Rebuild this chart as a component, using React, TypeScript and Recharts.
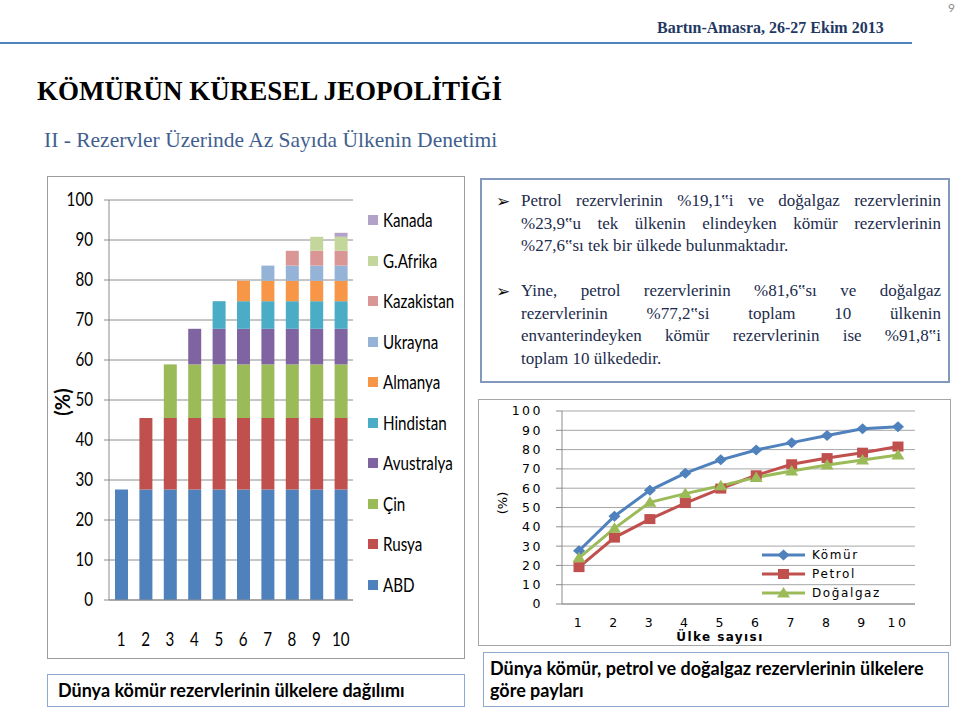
import React from 'react';
import { BarChart, Bar, LineChart, Line, XAxis, YAxis, CartesianGrid } from 'recharts';

// ---- data: stacked bar chart (share of world coal reserves, %) ----
const categories = ['1', '2', '3', '4', '5', '6', '7', '8', '9', '10'];
const countries = ['ABD', 'Rusya', 'Çin', 'Avustralya', 'Hindistan', 'Almanya', 'Ukrayna', 'Kazakistan', 'G.Afrika', 'Kanada'];
const countryShares = [27.6, 17.9, 13.4, 8.9, 6.9, 5.1, 3.8, 3.7, 3.5, 1.0];
const countryColors = ['#4F81BD', '#C0504D', '#9BBB59', '#8064A2', '#4BACC6', '#F79646', '#95B3D7', '#D99694', '#C3D69B', '#B3A2C7'];
const barTicks = [0, 10, 20, 30, 40, 50, 60, 70, 80, 90, 100];

// ---- data: cumulative shares line chart (%) ----
const countryCounts = ['1', '2', '3', '4', '5', '6', '7', '8', '9', '10'];
const komur = [27.6, 45.5, 58.9, 67.8, 74.7, 79.8, 83.6, 87.3, 90.8, 91.8];
const petrol = [19.1, 34.4, 44.0, 52.3, 59.8, 66.7, 72.4, 75.6, 78.4, 81.6];
const dogalgaz = [23.9, 39.2, 52.7, 57.2, 61.3, 65.6, 68.9, 72.0, 74.6, 77.2];
const lineTicks = [0, 10, 20, 30, 40, 50, 60, 70, 80, 90, 100];

const barRows = categories.map((cat, i) => {
  const row: Record<string, any> = { cat };
  countries.forEach((name, j) => {
    row[name] = j <= i ? countryShares[j] : 0;
  });
  return row;
});

const lineRows = countryCounts.map((n, i) => ({ n, komur: komur[i], petrol: petrol[i], dogalgaz: dogalgaz[i] }));

const SERIF = "'Liberation Serif', 'DejaVu Serif', serif";
const CAL = "Lato, 'Open Sans', sans-serif";
const VERD = "'DejaVu Sans', Verdana, sans-serif";
const SQUEEZE = 0.82;

const BLUE = '#4F81BD';
const RED = '#C0504D';
const GREEN = '#9BBB59';

const diamond = (cx: number, cy: number, fill: string, key?: any) => (
  <path key={key} d={`M${cx},${cy - 5.5}L${cx + 6},${cy}L${cx},${cy + 5.5}L${cx - 6},${cy}Z`} fill={fill} />
);
const square = (cx: number, cy: number, fill: string, key?: any) => (
  <rect key={key} x={cx - 5.5} y={cy - 5} width={11} height={10} fill={fill} />
);
const triangle = (cx: number, cy: number, fill: string, key?: any) => (
  <path key={key} d={`M${cx},${cy - 6}L${cx + 6.5},${cy + 4.5}L${cx - 6.5},${cy + 4.5}Z`} fill={fill} />
);

const mkDot = (fn: any, fill: string) => (p: any) => {
  if (p.cx == null || p.cy == null) return <g key={`e-${p.index}`} />;
  return fn(p.cx, p.cy, fill, `d-${p.index}`);
};

const lineSeries = [
  { key: 'komur', name: 'Kömür', color: BLUE, marker: diamond },
  { key: 'petrol', name: 'Petrol', color: RED, marker: square },
  { key: 'dogalgaz', name: 'Doğalgaz', color: GREEN, marker: triangle },
];

// narrow (Calibri-like) tick labels for the bar chart
const NarrowTick = (props: any) => {
  const { x, y, payload, textAnchor, orientation } = props;
  const dy = orientation === 'bottom' ? '0.71em' : '0.35em';
  return (
    <g transform={`translate(${x},${y}) scale(${SQUEEZE},1)`}>
      <text x={0} y={0} dy={dy} textAnchor={textAnchor} fontFamily={CAL} fontSize={18.5} fill="#000">
        {payload.value}
      </text>
    </g>
  );
};

const textLines1 = [
  'Petrol rezervlerinin %19,1‟i ve doğalgaz rezervlerinin',
  '%23,9‟u tek ülkenin elindeyken kömür rezervlerinin',
  '%27,6‟sı tek bir ülkede bulunmaktadır.',
];
const textLines2 = [
  'Yine, petrol rezervlerinin %81,6‟sı ve doğalgaz',
  'rezervlerinin %77,2‟si toplam 10 ülkenin',
  'envanterindeyken kömür rezervlerinin ise %91,8‟i',
  'toplam 10 ülkededir.',
];

const Paragraph = ({ lines, top }: { lines: string[]; top: number }) => (
  <>
    <div style={{ position: 'absolute', left: 496, top, fontFamily: "'DejaVu Sans', sans-serif", fontSize: 17, lineHeight: '22.5px', color: '#111' }}>➢</div>
    <div style={{ position: 'absolute', left: 521, top, width: 420, fontFamily: SERIF, fontSize: 17, color: '#1c2c4c' }}>
      {lines.map((l, i) => (
        <div
          key={i}
          style={{
            height: 22.5,
            lineHeight: '22.5px',
            whiteSpace: 'nowrap',
            textAlign: i < lines.length - 1 ? 'justify' : 'left',
            textAlignLast: i < lines.length - 1 ? 'justify' : 'left',
          } as any}
        >
          {l}
        </div>
      ))}
    </div>
  </>
);

export default function App() {
  return (
    <div style={{ position: 'absolute', left: 0, top: 0, width: 960, height: 709, background: '#fff', overflow: 'hidden' }}>
      {/* page number */}
      <div style={{ position: 'absolute', left: 948, top: 1, fontFamily: CAL, fontSize: 12, lineHeight: '14px', color: '#8c8c8c' }}>9</div>

      {/* header */}
      <div style={{ position: 'absolute', left: 657, top: 19, fontFamily: SERIF, fontWeight: 'bold', fontSize: 16, lineHeight: '18px', color: '#1F3864', whiteSpace: 'nowrap' }}>
        Bartın-Amasra, 26-27 Ekim 2013
      </div>
      <div style={{ position: 'absolute', left: 0, top: 42, width: 912, height: 2, background: BLUE }} />

      {/* title */}
      <div style={{ position: 'absolute', left: 37, top: 78, fontFamily: SERIF, fontWeight: 'bold', fontSize: 27, lineHeight: '27px', color: '#000', whiteSpace: 'nowrap' }}>
        KÖMÜRÜN KÜRESEL JEOPOLİTİĞİ
      </div>
      <div style={{ position: 'absolute', left: 44, top: 130, fontFamily: SERIF, fontSize: 21.5, lineHeight: '21.5px', color: '#3F5F8F', whiteSpace: 'nowrap' }}>
        II - Rezervler Üzerinde Az Sayıda Ülkenin Denetimi
      </div>

      {/* left chart box */}
      <div style={{ position: 'absolute', left: 47, top: 176, width: 418, height: 483, border: '1px solid #9c9c9c', boxSizing: 'border-box' }}>
        <BarChart width={416} height={481} data={barRows} margin={{ top: 23, right: 111, bottom: 0, left: 0 }} barSize={13}>
          <CartesianGrid vertical={false} stroke="#8c8c8c" />
          <XAxis
            dataKey="cat"
            height={58}
            interval={0}
            axisLine={{ stroke: '#8c8c8c' }}
            tickLine={false}
            tickMargin={27}
            tick={<NarrowTick />}
          />
          <YAxis
            width={61}
            domain={[0, 100]}
            ticks={barTicks}
            interval={0}
            axisLine={{ stroke: '#8c8c8c' }}
            tickLine={{ stroke: '#8c8c8c' }}
            tickSize={5}
            tickMargin={11}
            tick={<NarrowTick />}
          />
          {countries.map((c, i) => (
            <Bar key={c} dataKey={c} stackId="s" fill={countryColors[i]} isAnimationActive={false} />
          ))}
        </BarChart>
        {/* y title */}
        <div style={{ position: 'absolute', left: 14, top: 225, transform: 'translate(-50%, -50%) rotate(-90deg)', fontFamily: CAL, fontWeight: 'bold', fontSize: 20, whiteSpace: 'nowrap' }}>(%)</div>
        {/* legend */}
        <div style={{ position: 'absolute', left: 320, top: 43 - 20.25 }}>
          {countries.map((_, k) => {
            const i = countries.length - 1 - k;
            return (
              <div key={countries[i]} style={{ display: 'flex', alignItems: 'center', height: 40.5 }}>
                <div style={{ width: 10, height: 10, background: countryColors[i], marginRight: 5, flex: 'none' }} />
                <span style={{ display: 'inline-block', fontFamily: CAL, fontSize: 18.5, color: '#000', whiteSpace: 'nowrap', transform: `scaleX(${SQUEEZE})`, transformOrigin: 'left center' }}>{countries[i]}</span>
              </div>
            );
          })}
        </div>
      </div>

      {/* left caption */}
      <div style={{ position: 'absolute', left: 47, top: 674, width: 418, height: 33, border: '1.5px solid #8EA9CF', boxSizing: 'border-box' }}>
        <div style={{ position: 'absolute', left: 10, top: 4, fontFamily: CAL, fontWeight: 'bold', fontSize: 18, lineHeight: '22px', whiteSpace: 'nowrap', color: '#000' }}>
          Dünya kömür rezervlerinin ülkelere dağılımı
        </div>
      </div>

      {/* text box */}
      <div style={{ position: 'absolute', left: 480, top: 178, width: 470, height: 205, border: '2px solid #8399BB', boxSizing: 'border-box' }} />
      <Paragraph lines={textLines1} top={190} />
      <Paragraph lines={textLines2} top={280} />

      {/* line chart box */}
      <div style={{ position: 'absolute', left: 478, top: 399, width: 473, height: 247, border: '1px solid #a6a6a6', boxSizing: 'border-box' }}>
        <LineChart width={471} height={245} data={lineRows} margin={{ top: 11, right: 35, bottom: 0, left: 0 }}>
          <CartesianGrid vertical={false} stroke="#a6a6a6" />
          <XAxis
            dataKey="n"
            height={41}
            interval={0}
            padding={{ left: 17, right: 17 }}
            axisLine={{ stroke: '#8c8c8c' }}
            tickLine={false}
            tickSize={0}
            tickMargin={14}
            tick={{ fontSize: 12.5, fontFamily: VERD, fill: '#000', letterSpacing: 2.5 }}
          />
          <YAxis
            width={83}
            domain={[0, 100]}
            ticks={lineTicks}
            interval={0}
            axisLine={{ stroke: '#8c8c8c' }}
            tickLine={{ stroke: '#8c8c8c' }}
            tickSize={6}
            tickMargin={13}
            tick={{ fontSize: 12.5, fontFamily: VERD, fill: '#000', letterSpacing: 2.5 }}
          />
          {lineSeries.map((s) => (
            <Line
              key={s.key}
              type="linear"
              dataKey={s.key}
              stroke={s.color}
              strokeWidth={3}
              dot={mkDot(s.marker, s.color)}
              activeDot={false}
              isAnimationActive={false}
            />
          ))}
        </LineChart>
        <div style={{ position: 'absolute', left: 23, top: 103, transform: 'translate(-50%, -50%) rotate(-90deg)', fontFamily: VERD, fontSize: 13, whiteSpace: 'nowrap' }}>(%)</div>
        <div style={{ position: 'absolute', left: 241, top: 237, transform: 'translate(-50%, -50%)', fontFamily: VERD, fontWeight: 'bold', fontSize: 12, letterSpacing: 1.4, whiteSpace: 'nowrap' }}>Ülke sayısı</div>
        {/* legend */}
        <div style={{ position: 'absolute', left: 283, top: 155 - 9.5 }}>
          {lineSeries.map((s) => (
            <div key={s.key} style={{ display: 'flex', alignItems: 'center', height: 19 }}>
              <svg width={43} height={14} style={{ display: 'block' }}>
                <line x1={0} y1={7} x2={43} y2={7} stroke={s.color} strokeWidth={3} />
                {s.marker(21.5, 7, s.color)}
              </svg>
              <span style={{ marginLeft: 7, fontFamily: VERD, fontSize: 12, letterSpacing: 1.6, whiteSpace: 'nowrap', color: '#000' }}>{s.name}</span>
            </div>
          ))}
        </div>
      </div>

      {/* right caption */}
      <div style={{ position: 'absolute', left: 483, top: 652, width: 466, height: 55, border: '1.5px solid #8EA9CF', boxSizing: 'border-box' }}>
        <div style={{ position: 'absolute', left: 6, top: 4, fontFamily: CAL, fontWeight: 'bold', fontSize: 18, lineHeight: '22px', color: '#000', whiteSpace: 'nowrap' }}>
          Dünya kömür, petrol ve doğalgaz rezervlerinin ülkelere
          <br />
          göre payları
        </div>
      </div>
    </div>
  );
}
